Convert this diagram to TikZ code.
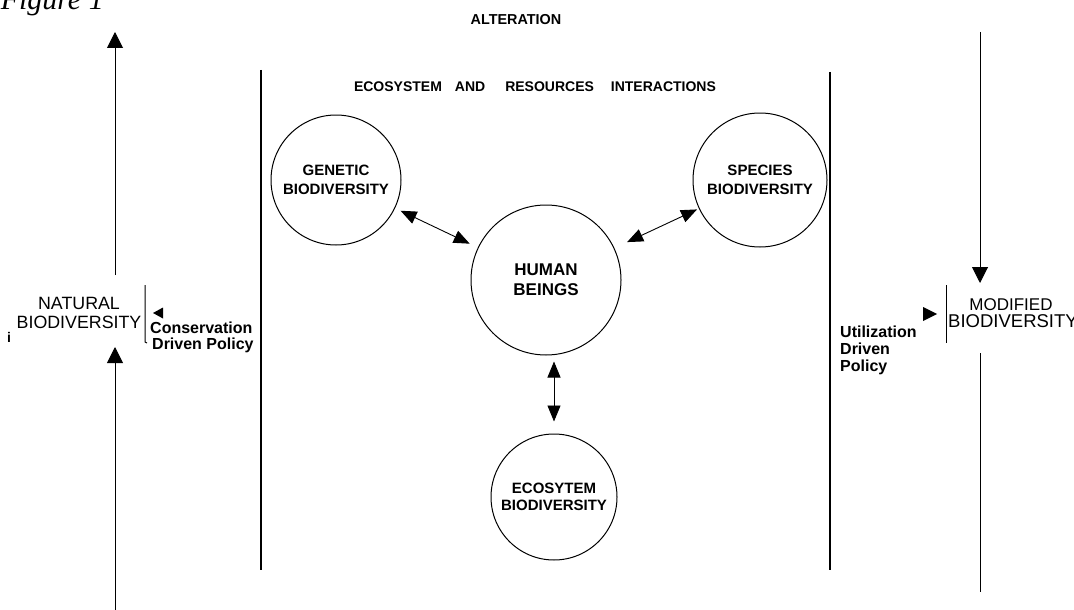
\documentclass[tikz,border=0pt]{standalone}
\usepackage{fontspec}
\setmainfont{Liberation Sans}
\newfontfamily\figfont{Liberation Serif}
\usetikzlibrary{arrows.meta,calc}
\begin{document}
\begin{tikzpicture}[x=1pt,y=-1pt,
  bio/.style={circle,draw,line width=1pt,inner sep=0pt,align=center,
    font=\bfseries\fontsize{15}{19}\selectfont},
  biarrow/.style={{Triangle[length=16pt,width=13pt]}-{Triangle[length=16pt,width=13pt]},line width=0.9pt},
  bigtip/.style={-{Triangle[length=16pt,width=16pt]},line width=1pt},
  bar/.style={line width=2.2pt},
  thinline/.style={line width=1pt},
  lbl/.style={font=\bfseries\fontsize{16}{17}\selectfont,inner sep=0pt,anchor=base west},
  captxt/.style={font=\bfseries\fontsize{14}{16}\selectfont,inner sep=0pt,anchor=base},
  plaintxt/.style={inner sep=0pt,anchor=base}
]
\useasboundingbox (0,0) rectangle (1074,610);

% clipped figure caption
\node[anchor=base east,inner sep=0pt,font=\figfont\itshape\fontsize{30}{30}\selectfont] (fig) at (104,10) {Figure 1};

% titles
\node[captxt,font=\bfseries\fontsize{14.4}{16}\selectfont] (alt) at (516,25) {ALTERATION};
\node[captxt] (eri) at (535,92) {ECOSYSTEM\hspace{13pt}AND\hspace{20pt}RESOURCES\hspace{17pt}INTERACTIONS};

% vertical bars
\coordinate (lbart) at (261,70);  \coordinate (lbarb) at (261,570);
\coordinate (rbart) at (830,72);  \coordinate (rbarb) at (830,570);
\draw[bar] (lbart) -- (lbarb);
\draw[bar] (rbart) -- (rbarb);

% circles
\node[bio,minimum size=130pt] (gen) at (336,180) {GENETIC\\BIODIVERSITY};
\node[bio,minimum size=134pt] (spe) at (760,180) {SPECIES\\BIODIVERSITY};
\node[bio,minimum size=150pt,font=\bfseries\fontsize{17}{20}\selectfont] (hum) at (546,280) {HUMAN\\BEINGS};
\node[bio,minimum size=126pt,font=\bfseries\fontsize{15}{17}\selectfont] (eco) at (554,497) {ECOSYTEM\\BIODIVERSITY};

% two-way arrows
\draw[biarrow,shorten <=6pt,shorten >=9pt] (gen) -- (hum);
\draw[biarrow,shorten <=2pt,shorten >=14pt] (spe) -- (hum);
\draw[biarrow] ($(hum.south -| eco.north)+(0,6)$) -- ($(eco.north)+(0,-12)$);

% left side
\coordinate (ltop) at (115,32);  \coordinate (lmid) at (115,275);
\coordinate (lbot) at (115,612); \coordinate (lup) at (115,347);
\draw[bigtip] (lmid) -- (ltop);
\draw[bigtip] (lbot) -- (lup);
\node[inner sep=0pt,align=center,font=\fontsize{17.8}{18.5}\selectfont] (nat) at (79,313) {NATURAL\\BIODIVERSITY};
\coordinate (nbt) at (145,285); \coordinate (nbb) at (145,342); \coordinate (nbh) at (147,343);
\draw[thinline] (nbt) -- (nbb) -- (nbh);
\fill (153,313) -- (163,307.5) -- (163,318.5) -- cycle;
\node[lbl] (cons) at (150,333) {Conservation};
\node[lbl] (cdp) at (152,349) {Driven Policy};
\node[lbl,font=\bfseries\fontsize{14}{14}\selectfont] (ii) at (7,342) {i};

% right side
\coordinate (rtop) at (980,32);  \coordinate (rdn) at (980,283);
\coordinate (rlt) at (980,353);  \coordinate (rlb) at (980,592);
\draw[bigtip] (rtop) -- (rdn);
\draw[thinline] (rlt) -- (rlb);
\coordinate (mbt) at (946,285); \coordinate (mbb) at (946,343);
\draw[thinline] (mbt) -- (mbb);
\fill (937,314) -- (923,307) -- (923,321) -- cycle;
\node[plaintxt,font=\fontsize{17}{17}\selectfont] (mod) at (1011,310) {MODIFIED};
\node[inner sep=0pt,anchor=base west,font=\fontsize{18.5}{18.5}\selectfont] (mbio) at (948,327) {BIODIVERSITY};
\node[lbl] (util) at (840,337) {Utilization};
\node[lbl] (udr) at (840,354) {Driven};
\node[lbl] (upo) at (840,371) {Policy};
\end{tikzpicture}
\end{document}
